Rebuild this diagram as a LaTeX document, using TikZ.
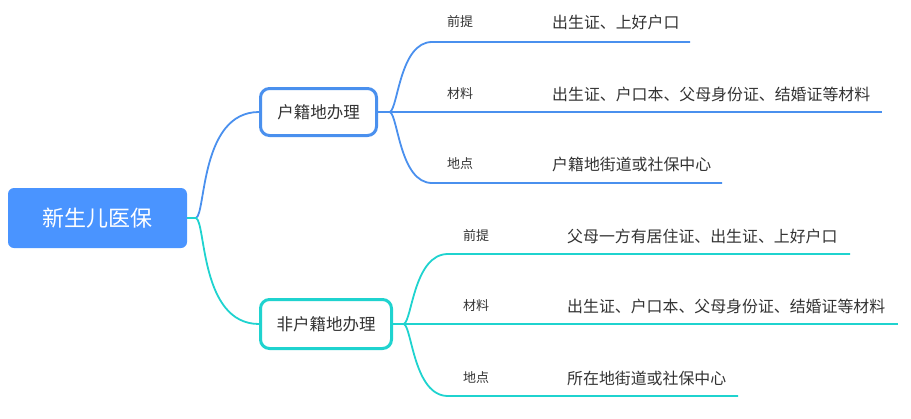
\documentclass[tikz,border=0pt]{standalone}
\usepackage{fontspec}
\setmainfont{Noto Sans CJK SC}
\definecolor{rootblue}{HTML}{4A94FF}
\definecolor{lblue}{HTML}{4A90EE}
\definecolor{lteal}{HTML}{1FD3CF}
\definecolor{txt}{HTML}{333333}
\begin{document}
\begin{tikzpicture}[x=1pt,y=-1pt,
  rootbox/.style={fill=rootblue,rounded corners=6pt,minimum width=179pt,minimum height=60pt,inner sep=0pt,text=white,font=\fontsize{22}{25}\selectfont},
  subbox/.style={draw=#1,line width=3pt,fill=white,rounded corners=9pt,inner sep=0pt,text=txt,font=\fontsize{16.5}{20}\selectfont},
  lab/.style={anchor=west,inner sep=0pt,text=txt,font=\fontsize{13}{16}\selectfont},
  det/.style={anchor=west,inner sep=0pt,text=txt,font=\fontsize{15.9}{18}\selectfont},
  con/.style={draw=#1,line width=1.8pt}
]
\useasboundingbox (0,0) rectangle (911,418);
\node[rootbox] (root) at (97.5,218) {新生儿医保};
\node[subbox=lblue,minimum width=116pt,minimum height=47pt] (h) at (318.5,112) {户籍地办理};
\node[subbox=lteal,minimum width=131pt,minimum height=49pt] (f) at (326,324) {非户籍地办理};
% root connectors
\coordinate (rj) at (196,218);
\draw[con=lblue] (root.east) -- (rj) .. controls (206,214) and (200,112) .. (h.west);
\draw[con=lteal] (root.east) -- (rj) .. controls (206,222) and (200,324) .. (f.west);
% branch 1
\coordinate (hj) at (390,112);
\node[lab] (h1l) at (447,22) {前提};
\node[det] (h1t) at (552,22) {出生证、上好户口};
\node[lab] (h2l) at (447,94) {材料};
\node[det] (h2t) at (552,94) {出生证、户口本、父母身份证、结婚证等材料};
\node[lab] (h3l) at (447,164) {地点};
\node[det] (h3t) at (552,164) {户籍地街道或社保中心};
\coordinate (h1e) at (690,42);
\coordinate (h2e) at (882,112);
\coordinate (h3e) at (722,183);
\draw[con=lblue] (h.east) -- (hj);
\draw[con=lblue] (hj) .. controls (398,108) and (400,42) .. (432,42) -- (h1e);
\draw[con=lblue] (hj) -- (h2e);
\draw[con=lblue] (hj) .. controls (398,116) and (400,183) .. (432,183) -- (h3e);
% branch 2
\coordinate (fj) at (404,324);
\node[lab] (f1l) at (463,236) {前提};
\node[det] (f1t) at (567,236) {父母一方有居住证、出生证、上好户口};
\node[lab] (f2l) at (463,306) {材料};
\node[det] (f2t) at (567,306) {出生证、户口本、父母身份证、结婚证等材料};
\node[lab] (f3l) at (463,378) {地点};
\node[det] (f3t) at (567,378) {所在地街道或社保中心};
\coordinate (f1e) at (850,254);
\coordinate (f2e) at (898,324);
\coordinate (f3e) at (738,396);
\draw[con=lteal] (f.east) -- (fj);
\draw[con=lteal] (fj) .. controls (412,320) and (414,254) .. (448,254) -- (f1e);
\draw[con=lteal] (fj) -- (f2e);
\draw[con=lteal] (fj) .. controls (412,328) and (414,396) .. (448,396) -- (f3e);
\end{tikzpicture}
\end{document}
